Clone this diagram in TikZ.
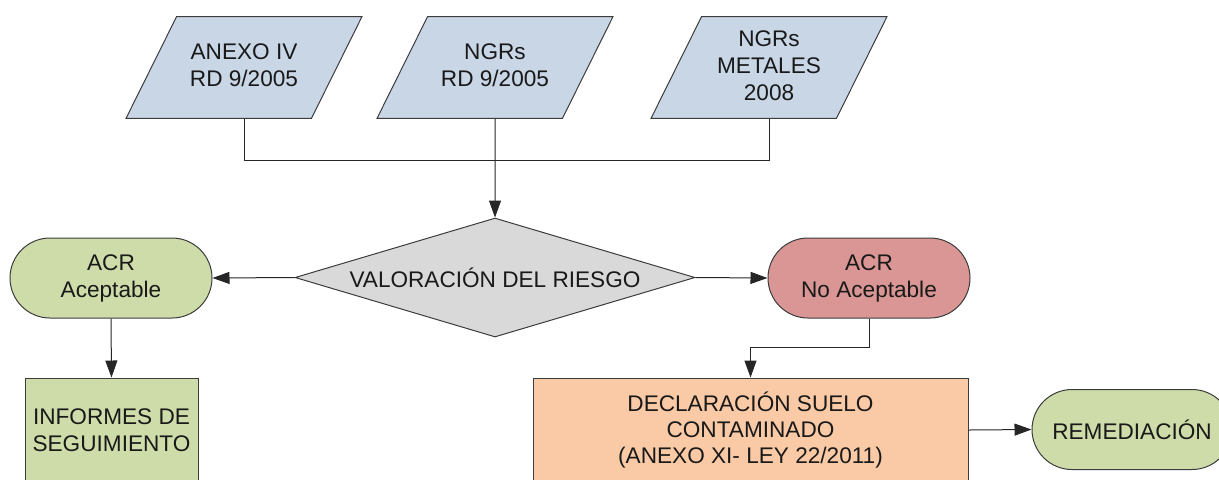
\documentclass[tikz,border=0pt]{standalone}
\usepackage{fontspec}
\setmainfont{Liberation Sans}
\usepackage{tikz}
\usetikzlibrary{arrows.meta,shapes.geometric,positioning}

\definecolor{normfill}{RGB}{201,214,230}
\definecolor{riskfill}{RGB}{217,217,217}
\definecolor{okfill}{RGB}{206,220,170}
\definecolor{nokfill}{RGB}{217,150,148}
\definecolor{declfill}{RGB}{250,202,166}
\definecolor{edge}{RGB}{60,60,60}

\tikzset{
  base/.style={draw=edge,line width=0.5pt,align=center,text=black!90,
    font=\fontsize{11.3}{13.5}\selectfont,inner sep=0pt},
  normbox/.style={base,fill=normfill,trapezium,trapezium left angle=63.6,
    trapezium right angle=116.4,minimum width=118pt,inner ysep=#1,
    trapezium stretches body=true,
    execute at begin node=\rule{0pt}{11.45pt},
    execute at end node=\rule[-2.05pt]{0pt}{2.05pt}},
  normbox/.default=13.75pt,
  riskbox/.style={base,fill=riskfill,diamond,aspect=3.36,minimum width=200pt,
    minimum height=59.5pt},
  acrbox/.style={base,rounded corners=20pt,minimum width=101pt,
    minimum height=40pt},
  procbox/.style={base,minimum height=52pt},
  flow/.style={line width=0.5pt,draw=black!85,-{Triangle[length=8.5pt,width=6pt]}},
  link/.style={line width=0.5pt,draw=black!85}
}

\begin{document}
\begin{tikzpicture}[x=0.5pt,y=-0.5pt]
  % frame of the picture
  \useasboundingbox (0,0) rectangle (1219,479);
  \clip (0,0) rectangle (1219,479);

  % input norms
  \node[normbox] (anexo) at (244,67.5) {ANEXO IV\\RD 9/2005};
  \node[normbox] (ngr)   at (495,67.5) {NGRs\\RD 9/2005};
  \node[normbox=7pt] (metal) at (769,67.5) {NGRs\\METALES\\2008};

  % risk assessment
  \node[riskbox] (risk) at (495,277.5) {VALORACIÓN DEL RIESGO};

  % outcomes
  \node[acrbox,fill=okfill]  (acrok)  at (111,278) {ACR\\Aceptable};
  \node[acrbox,fill=nokfill] (acrnok) at (869,278) {ACR\\No Aceptable};

  % follow-up boxes
  \node[procbox,fill=okfill,minimum width=86.5pt] (informes) at (111.5,430)
    {INFORMES DE\\SEGUIMIENTO};
  \node[procbox,fill=declfill,minimum width=217.5pt,
    font=\fontsize{11.3}{12.8}\selectfont] (decl) at (750.5,430)
    {DECLARACIÓN SUELO\\CONTAMINADO\\(ANEXO XI- LEY 22/2011)};
  \node[acrbox,fill=okfill,minimum width=100pt] (remed) at (1132,429.5)
    {REMEDIACIÓN};

  % connectors
  \coordinate (join) at (495,160);
  \coordinate (kink) at (869,347);
  \draw[link] (anexo.south) |- (join) -| (metal.south);
  \draw[flow] (ngr.south) -- (risk.north);
  \draw[flow] (risk.west) -- (acrok.east);
  \draw[flow] (risk.east) -- (acrnok.west);
  \draw[flow] (acrok.south) -- (informes.north);
  \draw[flow] (acrnok.south) -- (kink) -| (decl.north);
  \draw[flow] (decl.east) -- (remed.west);
\end{tikzpicture}
\end{document}
